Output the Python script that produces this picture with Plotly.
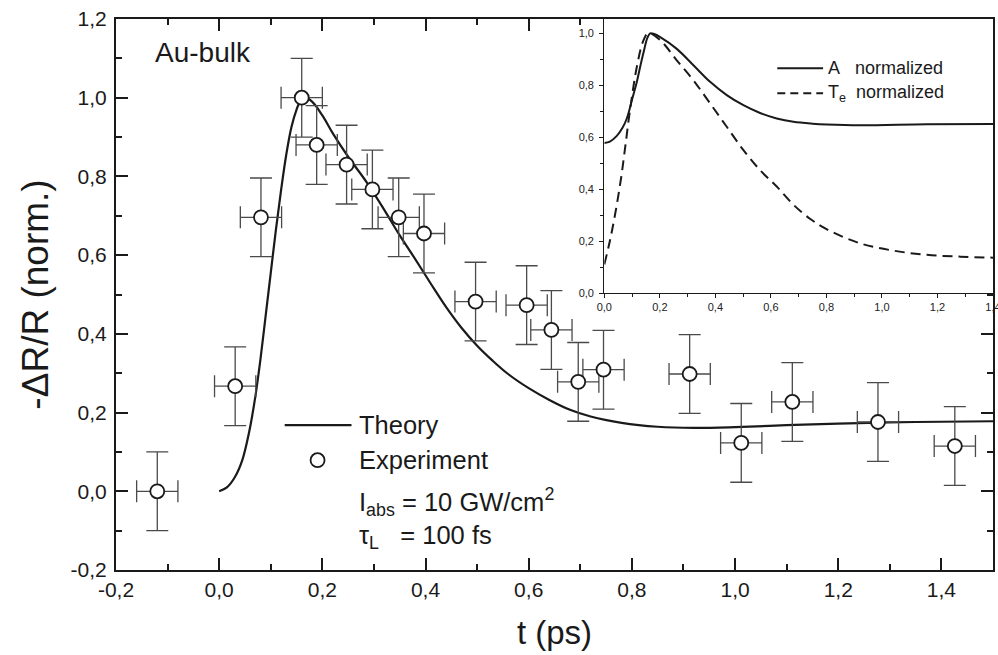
import plotly.graph_objects as go

# ---------------- data ----------------
# Experiment (main panel)
exp_t = [-0.12, 0.031, 0.081, 0.160, 0.189, 0.247, 0.297, 0.348, 0.397, 0.497,
         0.596, 0.644, 0.696, 0.745, 0.912, 1.012, 1.111, 1.277, 1.426]
exp_r = [0.000, 0.267, 0.696, 1.000, 0.880, 0.830, 0.767, 0.696, 0.655, 0.482,
         0.473, 0.410, 0.278, 0.309, 0.298, 0.123, 0.227, 0.176, 0.115]
exp_dt = [0.04] * len(exp_t)
exp_dr = [0.10] * len(exp_t)

# Theory (main panel)
th_t = [0.0, 0.015, 0.030, 0.045, 0.058, 0.070, 0.080, 0.090, 0.100, 0.110, 0.120,
        0.130, 0.140, 0.150, 0.158, 0.166, 0.180, 0.200, 0.220, 0.250, 0.286, 0.320,
        0.350, 0.380, 0.410, 0.440, 0.470, 0.500, 0.530, 0.560, 0.600, 0.640, 0.680,
        0.720, 0.780, 0.850, 0.920, 1.000, 1.100, 1.200, 1.350, 1.500]
th_r = [0.0, 0.010, 0.035, 0.080, 0.150, 0.240, 0.335, 0.445, 0.555, 0.665, 0.765,
        0.855, 0.925, 0.970, 0.993, 1.000, 0.990, 0.955, 0.910, 0.850, 0.785, 0.715,
        0.650, 0.590, 0.528, 0.468, 0.415, 0.370, 0.332, 0.298, 0.262, 0.232, 0.207,
        0.190, 0.174, 0.164, 0.161, 0.163, 0.168, 0.172, 0.176, 0.178]

# Inset: A normalized
a_t = [0.0, 0.020, 0.045, 0.065, 0.081, 0.100, 0.117, 0.130, 0.141, 0.155, 0.165,
       0.180, 0.200, 0.261, 0.321, 0.381, 0.441, 0.501, 0.561, 0.621, 0.681, 0.750,
       0.802, 0.922, 1.162, 1.402]
a_v = [0.578, 0.583, 0.605, 0.635, 0.672, 0.745, 0.812, 0.875, 0.925, 0.982, 1.000,
       0.997, 0.986, 0.940, 0.877, 0.813, 0.762, 0.723, 0.693, 0.672, 0.659, 0.652,
       0.649, 0.646, 0.650, 0.651]

# Inset: Te normalized
te_t = [0.0, 0.020, 0.040, 0.060, 0.075, 0.092, 0.117, 0.140, 0.158, 0.200, 0.261,
        0.321, 0.381, 0.441, 0.501, 0.561, 0.621, 0.681, 0.742, 0.802, 0.922, 1.042,
        1.162, 1.282, 1.402]
te_v = [0.110, 0.200, 0.310, 0.440, 0.560, 0.700, 0.870, 0.970, 1.000, 0.975, 0.896,
        0.819, 0.730, 0.640, 0.550, 0.473, 0.410, 0.340, 0.285, 0.245, 0.191, 0.163,
        0.147, 0.140, 0.136]

# tick labels
main_xticks = [-0.2, 0.0, 0.2, 0.4, 0.6, 0.8, 1.0, 1.2, 1.4]
main_xlabels = ["-0,2", "0,0", "0,2", "0,4", "0,6", "0,8", "1,0", "1,2", "1,4"]
main_yticks = [-0.2, 0.0, 0.2, 0.4, 0.6, 0.8, 1.0, 1.2]
main_ylabels = ["-0,2", "0,0", "0,2", "0,4", "0,6", "0,8", "1,0", "1,2"]
ins_xticks = [0.0, 0.2, 0.4, 0.6, 0.8, 1.0, 1.2, 1.4]
ins_xlabels = ["0,0", "0,2", "0,4", "0,6", "0,8", "1,0", "1,2", "1,4"]
ins_yticks = [0.0, 0.2, 0.4, 0.6, 0.8, 1.0]
ins_ylabels = ["0,0", "0,2", "0,4", "0,6", "0,8", "1,0"]

FONT = "Liberation Sans, Arial, Helvetica, sans-serif"
INK = "#1a1a1a"

fig = go.Figure()

fig.add_trace(go.Scatter(
    x=th_t, y=th_r, mode="lines", line=dict(color=INK, width=2.2, shape="spline", smoothing=1),
    xaxis="x", yaxis="y", showlegend=False, name="Theory"))

fig.add_trace(go.Scatter(
    x=exp_t, y=exp_r, mode="markers",
    marker=dict(symbol="circle", size=14, color="white", line=dict(color=INK, width=1.8)),
    error_x=dict(type="data", array=exp_dt, color="#4a4a4a", thickness=1.3, width=11),
    error_y=dict(type="data", array=exp_dr, color="#4a4a4a", thickness=1.3, width=11),
    xaxis="x", yaxis="y", showlegend=False, name="Experiment"))

fig.add_trace(go.Scatter(
    x=a_t, y=a_v, mode="lines", line=dict(color=INK, width=2, shape="spline", smoothing=1),
    xaxis="x2", yaxis="y2", showlegend=False, name="A normalized"))

fig.add_trace(go.Scatter(
    x=te_t, y=te_v, mode="lines",
    line=dict(color=INK, width=2, dash="10px,6px", shape="spline", smoothing=1),
    xaxis="x2", yaxis="y2", showlegend=False, name="Te normalized"))

main_axis = dict(showline=True, linecolor=INK, linewidth=2, mirror="ticks",
                 ticks="inside", ticklen=12, tickwidth=2, tickcolor=INK,
                 showgrid=False, zeroline=False, automargin=False,
                 ticklabeloverflow="allow",
                 tickfont=dict(family=FONT, size=21, color=INK))

inset_axis = dict(showline=True, linecolor=INK, linewidth=1.3,
                  ticks="outside", ticklen=4, tickwidth=1.2, tickcolor=INK,
                  showgrid=False, zeroline=False, automargin=False,
                  ticklabeloverflow="allow",
                  tickfont=dict(family=FONT, size=11, color="#222222"))

fig.update_layout(
    width=998, height=655,
    margin=dict(l=116, r=5, t=19, b=85),
    paper_bgcolor="white", plot_bgcolor="white",
    font=dict(family=FONT, color=INK),
    xaxis=dict(main_axis, range=[-0.2, 1.5], tickmode="array",
               tickvals=main_xticks, ticktext=main_xlabels,
               minor=dict(ticks="inside", ticklen=6, tickwidth=2, tickcolor=INK,
                          tickmode="linear", tick0=0, dtick=0.1),
               title=dict(text="t (ps)", font=dict(family=FONT, size=33, color=INK), standoff=21)),
    yaxis=dict(main_axis, range=[-0.2, 1.2], tickmode="array",
               tickvals=main_yticks, ticktext=main_ylabels, ticklabelstandoff=3,
               minor=dict(ticks="inside", ticklen=6, tickwidth=2, tickcolor=INK,
                          tickmode="linear", tick0=0, dtick=0.1),
               title=dict(text="-ΔR/R (norm.)", font=dict(family=FONT, size=37, color=INK), standoff=11)),
    xaxis2=dict(inset_axis, domain=[0.5568, 1.0], anchor="y2", range=[0, 1.4],
                tickmode="array", tickvals=ins_xticks, ticktext=ins_xlabels,
                minor=dict(ticks="outside", ticklen=3, tickwidth=1, tickcolor=INK,
                           tickmode="linear", tick0=0, dtick=0.1)),
    yaxis2=dict(inset_axis, domain=[0.5027, 1.0], anchor="x2", range=[0, 1.055],
                tickmode="array", tickvals=ins_yticks, ticktext=ins_ylabels,
                ticklabelstandoff=3,
                minor=dict(ticks="outside", ticklen=3, tickwidth=1, tickcolor=INK,
                           tickmode="linear", tick0=0, dtick=0.1)),
)

NB = "\u00a0"
LEG = 25.5
ann = []
ann.append(dict(text="Au-bulk", x=-0.129, y=1.116, xref="x", yref="y",
                xanchor="left", yanchor="middle", showarrow=False,
                font=dict(family=FONT, size=28, color=INK)))
ann.append(dict(text="Theory", x=0.267, y=0.168, xref="x", yref="y",
                xanchor="left", yanchor="middle", showarrow=False,
                font=dict(family=FONT, size=LEG, color=INK)))
ann.append(dict(text="Experiment", x=0.267, y=0.079, xref="x", yref="y",
                xanchor="left", yanchor="middle", showarrow=False,
                font=dict(family=FONT, size=LEG, color=INK)))
ann.append(dict(text="I<sub>abs</sub> = 10 GW/cm<sup>2</sup>", x=0.267, y=-0.028, xref="x", yref="y",
                xanchor="left", yanchor="middle", showarrow=False,
                font=dict(family=FONT, size=LEG, color=INK)))
ann.append(dict(text="τ<sub>L</sub>" + NB * 3 + "= 100 fs", x=0.267, y=-0.117, xref="x", yref="y",
                xanchor="left", yanchor="middle", showarrow=False,
                font=dict(family=FONT, size=LEG, color=INK)))
ann.append(dict(text="A" + NB * 3 + "normalized", x=0.800, y=0.865, xref="x2", yref="y2",
                xanchor="left", yanchor="middle", showarrow=False,
                font=dict(family=FONT, size=18, color=INK)))
ann.append(dict(text="T<sub>e</sub>" + NB * 2 + "normalized", x=0.800, y=0.769, xref="x2", yref="y2",
                xanchor="left", yanchor="middle", showarrow=False,
                font=dict(family=FONT, size=18, color=INK)))
fig.update_layout(annotations=ann)

shapes = []
# main legend samples
shapes.append(dict(type="line", xref="x", yref="y", x0=0.127, x1=0.2565, y0=0.168, y1=0.168,
                   line=dict(color=INK, width=2.2)))
shapes.append(dict(type="circle", xref="x", yref="y", xsizemode="pixel", ysizemode="pixel",
                   xanchor=0.1907, yanchor=0.079, x0=-7, x1=7, y0=-7, y1=7,
                   line=dict(color=INK, width=1.8), fillcolor="white"))
# inset legend samples
shapes.append(dict(type="line", xref="x2", yref="y2", x0=0.623, x1=0.788, y0=0.865, y1=0.865,
                   line=dict(color=INK, width=2)))
shapes.append(dict(type="line", xref="x2", yref="y2", x0=0.623, x1=0.788, y0=0.769, y1=0.769,
                   line=dict(color=INK, width=2, dash="8px,5px")))
fig.update_layout(shapes=shapes)

# remove the default 8px page margin so the 998x655 figure fills the window exactly
fig.write_html(
    "out.html",
    config={"displayModeBar": False},
    post_script="document.body.style.margin='0';"
                "document.documentElement.style.overflow='hidden';",
)
